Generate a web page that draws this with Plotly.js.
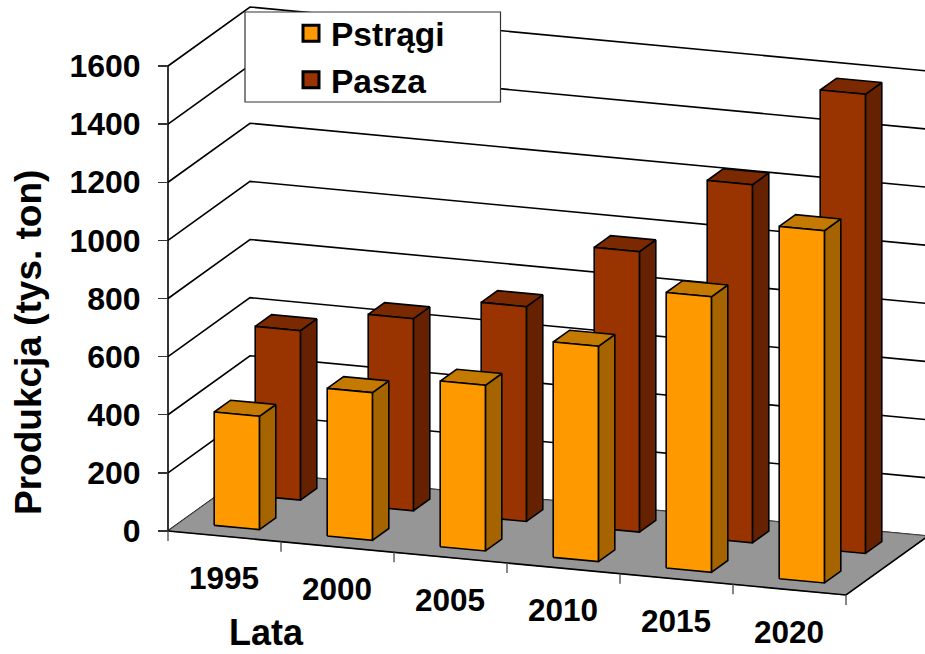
<!DOCTYPE html>
<html><head><meta charset="utf-8">
<script src="https://cdn.plot.ly/plotly-3.0.1.min.js"></script>
<style>html,body{margin:0;padding:0;background:#fff}#c{width:925px;height:654px}</style>
</head><body><div id="c"></div><script>
const categories = ['1995','2000','2005','2010','2015','2020'];
const pstragi = [390, 508, 570, 741, 948, 1212];
const pasza = [583, 661, 739, 965, 1232, 1580];
const yTicks = [0,200,400,600,800,1000,1200,1400,1600];

// oblique projection of the 3D chart box onto the 2D axes
const W = 925, H = 654, X0 = 168, Y0 = 531, PX_U = 113, PX_V = 465/1600;
const DX = 82, DY = 59, SLOPE = 10.67;
const px = (u,w)=> u + w*DX/PX_U;
const py = (u,w,v)=> v + (w*DY - u*SLOPE)/PX_V;
const FONT = 'Liberation Sans, Arial, sans-serif';

function poly(list){ // list of [u,w,v] loops
  const x=[],y=[];
  list.forEach(l=>{ l.forEach(p=>{x.push(px(p[0],p[1]));y.push(py(p[0],p[1],p[2]));}); x.push(null);y.push(null); });
  return {x,y};
}
function barFaces(vals,w0,w1,colors){
  const a=0.3,b=0.7;
  const front=[],side=[],top=[];
  vals.forEach((v,i)=>{
    const u0=i+a,u1=i+b;
    front.push([[u0,w0,0],[u1,w0,0],[u1,w0,v],[u0,w0,v],[u0,w0,0]]);
    side.push([[u1,w0,0],[u1,w1,0],[u1,w1,v],[u1,w0,v],[u1,w0,0]]);
    top.push([[u0,w0,v],[u1,w0,v],[u1,w1,v],[u0,w1,v],[u0,w0,v]]);
  });
  return [[side,colors[1]],[top,colors[2]],[front,colors[0]]].map(([l,c])=>{
    const t=poly(l);
    return {type:'scatter',mode:'lines',x:t.x,y:t.y,fill:'toself',fillcolor:c,
      line:{color:'#000',width:1.6},showlegend:false,hoverinfo:'skip'};
  });
}
function lines(list,color,width){
  const t=poly(list);
  return {type:'scatter',mode:'lines',x:t.x,y:t.y,line:{color,width},showlegend:false,hoverinfo:'skip',connectgaps:false};
}
const n=categories.length;
const wall=[];
yTicks.forEach(v=>{ wall.push([[0,0,v],[0,1,v],[n,1,v]]); });
wall.push([[0,0,0],[0,0,yTicks[yTicks.length-1]]]);
const floor=poly([[[0,0,0],[n,0,0],[n,1,0],[0,1,0],[0,0,0]]]);
const tickLen=10/PX_V;
const xt=[]; for(let k=0;k<=n;k++){ xt.push([[k,0,0],[k,0,-tickLen]]); }

const traces=[
  lines(wall,'#000',1.6),
  {type:'scatter',mode:'lines',x:floor.x,y:floor.y,fill:'toself',fillcolor:'#969696',line:{color:'#555',width:0.8},showlegend:false,hoverinfo:'skip'},
  lines([[[0,0,0],[n,0,0],[n,1,0]]],'#000',1.6),
  lines(xt,'#555',1.4),
  ...barFaces(pasza,0.65,0.85,['#993300','#662200','#7A2900']),
  ...barFaces(pstragi,0.15,0.35,['#FF9900','#A66400','#C47A00']),
  {type:'scatter',mode:'text',x:categories.map((c,i)=>px(i+0.5,0)-0.005),y:categories.map((c,i)=>py(i+0.5,0,0)-45/PX_V),
    text:categories,textposition:'middle center',textfont:{family:FONT,size:31.5,color:'#000',weight:700},showlegend:false,hoverinfo:'skip',cliponaxis:false},
  {type:'scatter',mode:'markers',name:'Pstrągi',x:[null],y:[null],marker:{symbol:'square',size:16,color:'#FF9900',line:{color:'#000',width:3}}},
  {type:'scatter',mode:'markers',name:'Pasza',x:[null],y:[null],marker:{symbol:'square',size:16,color:'#993300',line:{color:'#000',width:3}}}
];
const layout={
  width:W,height:H,margin:{l:0,r:0,t:0,b:0},paper_bgcolor:'#fff',plot_bgcolor:'rgba(0,0,0,0)',
  showlegend:true,
  legend:{x:291/W,xanchor:'left',y:1-5/H,yanchor:'top',bgcolor:'rgba(0,0,0,0)',borderwidth:0,
    font:{family:FONT,size:33.5,color:'#000',weight:700},traceorder:'normal',tracegroupgap:0},
  xaxis:{range:[-X0/PX_U,(W-X0)/PX_U],visible:false,fixedrange:true},
  yaxis:{range:[(Y0-H)/PX_V,Y0/PX_V],anchor:'free',position:X0/W,tickmode:'array',tickvals:yTicks,
    ticks:'outside',ticklen:10,tickwidth:1.4,tickcolor:'#333',showgrid:false,zeroline:false,showline:false,fixedrange:true,
    ticklabelstandoff:11,tickfont:{family:FONT,size:32,color:'#000',weight:700}},
  shapes:[{type:'rect',xref:'paper',yref:'paper',x0:245/W,x1:500.5/W,y0:1-102/H,y1:1-12/H,fillcolor:'#fff',line:{color:'#333',width:1.2},layer:'above'}],
  annotations:[
    {text:'Lata',xref:'paper',yref:'paper',x:266/W,y:0,xanchor:'center',yanchor:'bottom',showarrow:false,borderpad:0,font:{family:FONT,size:36,color:'#000',weight:700}},
    {text:'Produkcja (tys. ton)',xref:'paper',yref:'paper',x:28/W,y:1-343/H,xanchor:'center',yanchor:'middle',textangle:-90,showarrow:false,font:{family:FONT,size:37,color:'#000',weight:700}}
  ]
};
Plotly.newPlot('c',traces,layout,{displayModeBar:false,responsive:false,staticPlot:true});
</script></body></html>
